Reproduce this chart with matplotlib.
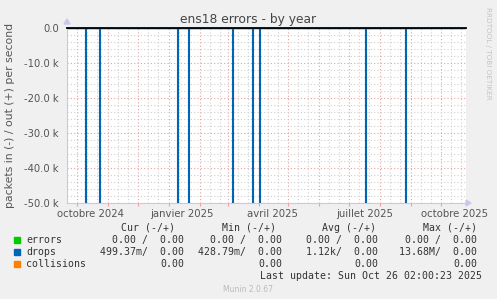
import numpy as np
import matplotlib
matplotlib.use("Agg")
import matplotlib.pyplot as plt
import matplotlib.dates as mdates
from datetime import datetime, timedelta

# ---------------- data ----------------
start_date = datetime(2024, 9, 21)
end_date = datetime(2025, 10, 26)
spike_dates = ["2024-10-09", "2024-10-23", "2025-01-09", "2025-01-20",
               "2025-03-05", "2025-03-25", "2025-04-01", "2025-07-17",
               "2025-08-26"]
# drops, in-direction (negative), packets/s
spike_values = [-2.1e6, -0.9e6, -13.68e6, -1.5e6, -0.6e6, -3.2e6, -0.8e6,
                -1.1e6, -2.4e6]

month_labels = ["octobre 2024", "janvier 2025", "avril 2025",
                "juillet 2025", "octobre 2025"]
month_label_dates = ["2024-10-15", "2025-01-14", "2025-04-15",
                     "2025-07-16", "2025-10-15"]
y_ticks = [0, -10000, -20000, -30000, -40000, -50000]

legend_labels = ["errors", "drops", "collisions"]
legend_colors = ["#00CC00", "#0066B3", "#FF8000"]
cur_vals = ["0.00 /  0.00", "499.37m/  0.00", "0.00"]
min_vals = ["0.00 /  0.00", "428.79m/  0.00", "0.00"]
avg_vals = ["0.00 /  0.00", "1.12k/  0.00", "0.00"]
max_vals = ["0.00 /  0.00", "13.68M/  0.00", "0.00"]
headers = ["Cur (-/+)", "Min (-/+)", "Avg (-/+)", "Max (-/+)"]

# ---------------- figure ----------------
W, H = 497, 299
fig = plt.figure(figsize=(W / 100, H / 100), dpi=100, facecolor="#F0F0F0")
x0, x1, ytop, ybot = 67, 466, 28, 203
ax = fig.add_axes([x0 / W, 1 - ybot / H, (x1 - x0) / W, (ybot - ytop) / H])
ax.set_facecolor("white")

# daily series
ndays = (end_date - start_date).days
days = np.array([start_date + timedelta(days=i) for i in range(ndays + 1)])
drops_in = np.zeros(ndays + 1)
for d, v in zip(spike_dates, spike_values):
    idx = (datetime.strptime(d, "%Y-%m-%d") - start_date).days
    drops_in[idx] = v
zeros = np.zeros(ndays + 1)

ax.plot(days, zeros, color=legend_colors[0], lw=1, drawstyle="steps-post")
ax.plot(days, zeros, color=legend_colors[2], lw=1, drawstyle="steps-post")
ax.plot(days, drops_in, color=legend_colors[1], lw=0.8,
        drawstyle="steps-post", zorder=3)
ax.axhline(0, color="black", lw=1.3, zorder=4, clip_on=False)

ax.set_xlim(start_date, end_date)
ax.set_ylim(-50000, 0)

# grid
ax.xaxis.set_major_locator(mdates.MonthLocator(bymonthday=1))
ax.xaxis.set_minor_locator(mdates.MonthLocator(bymonthday=[11, 21]))
ax.yaxis.set_major_locator(matplotlib.ticker.FixedLocator(y_ticks))
ax.yaxis.set_minor_locator(matplotlib.ticker.MultipleLocator(2000))
ax.grid(which="minor", color="#D0D0D0", lw=0.8, ls=(0, (1, 2)))
ax.grid(which="major", color="#E8A0A0", lw=0.8, ls=(0, (1, 2)))
ax.set_axisbelow(True)

ax.set_xticklabels([])
ax.tick_params(axis="x", which="major", length=2, color="#E8A0A0",
               direction="out")
ax.tick_params(axis="x", which="minor", length=0)
ax.tick_params(axis="y", which="both", length=0, pad=6)
ax.set_yticklabels(["0.0" if v == 0 else f"{v/1000:.1f} k" for v in y_ticks],
                   fontsize=7.2, color="#555555")

for lbl, d in zip(month_labels, month_label_dates):
    ax.text(datetime.strptime(d, "%Y-%m-%d"), -0.035, lbl,
            transform=ax.get_xaxis_transform(), ha="center", va="top",
            fontsize=7.3, color="#555555")

for s in ["top", "right"]:
    ax.spines[s].set_visible(False)
for s in ["left", "bottom"]:
    ax.spines[s].set_color("#C8C8F0")
    ax.spines[s].set_linewidth(0.8)

# axis arrows
fig.patches.append(matplotlib.patches.Polygon(
    [[(x0 - 3) / W, 1 - 24 / H], [(x0 + 3) / W, 1 - 24 / H],
     [x0 / W, 1 - 19 / H]], closed=True, transform=fig.transFigure,
    color="#C8C8F0"))
fig.patches.append(matplotlib.patches.Polygon(
    [[(x1) / W, 1 - (ybot - 3) / H], [(x1) / W, 1 - (ybot + 3) / H],
     [(x1 + 5) / W, 1 - ybot / H]], closed=True, transform=fig.transFigure,
    color="#C8C8F0"))

# title, labels
fig.text(248 / W, 1 - 19 / H, "ens18 errors - by year", ha="center",
         va="center", fontsize=8.8, color="#444444")
fig.text(10 / W, 1 - 115 / H, "packets in (-) / out (+) per second",
         rotation=90, ha="center", va="center", fontsize=7.8, color="#555555")
fig.text(488 / W, 1 - 53 / H, "RRDTOOL / TOBI OETIKER", rotation=270,
         ha="center", va="center", fontsize=5.2, color="#C4C4C4")

# legend
mono = "DejaVu Sans Mono"
fs = 7.1
tc = "#333333"
col_ends = [184, 282, 378, 477]
hdr_ends = [175, 276, 376, 477]
for h, xe in zip(headers, hdr_ends):
    fig.text(xe / W, 1 - 228 / H, h, ha="right", va="center",
             family=mono, fontsize=fs, color=tc)
row_y = [240, 252, 264]
for i, (lab, c) in enumerate(zip(legend_labels, legend_colors)):
    yy = 1 - row_y[i] / H
    fig.patches.append(matplotlib.patches.Rectangle(
        (14 / W, yy - 3 / H), 6 / W, 6 / H, transform=fig.transFigure,
        color=c))
    fig.text(26 / W, yy, lab, ha="left", va="center", family=mono,
             fontsize=fs, color=tc)
    for vals, xe in zip([cur_vals, min_vals, avg_vals, max_vals], col_ends):
        fig.text(xe / W, yy, vals[i], ha="right", va="center", family=mono,
                 fontsize=fs, color=tc)
fig.text(482 / W, 1 - 276 / H, "Last update: Sun Oct 26 02:00:23 2025",
         ha="right", va="center", family=mono, fontsize=fs, color=tc)
fig.text(248 / W, 1 - 289 / H, "Munin 2.0.67", ha="center", va="center",
         fontsize=5.5, color="#BBBBBB")

fig.savefig("out.png", dpi=100, facecolor=fig.get_facecolor())
